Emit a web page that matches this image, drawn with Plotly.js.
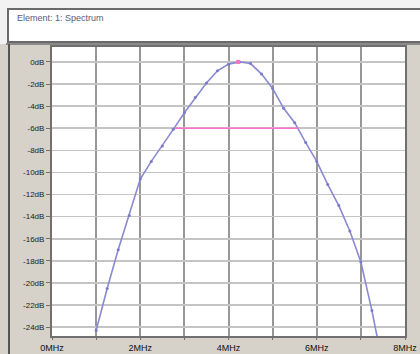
<!DOCTYPE html>
<html>
<head>
<meta charset="utf-8">
<script src="https://cdn.plot.ly/plotly-3.0.1.min.js"></script>
<style>html,body{margin:0;padding:0;background:#d6d2ca;}</style>
</head>
<body>
<div id="chart" style="width:420px;height:354px;"></div>
<script>
// Spectrum readings (MHz, dB)
const freqMHz = [1.0, 1.25, 1.5, 1.75, 2.0, 2.25, 2.5, 2.75, 3.0, 3.25, 3.5, 3.75, 4.0, 4.25, 4.5, 4.75, 5.0, 5.25, 5.5, 5.75, 6.0, 6.25, 6.5, 6.75, 7.0, 7.25, 7.4];
const levelDb = [-24.3, -20.5, -17.0, -13.9, -10.6, -9.0, -7.6, -6.1, -4.6, -3.2, -1.9, -0.8, -0.2, 0.0, -0.15, -1.1, -2.4, -4.2, -5.5, -7.3, -9.0, -11.1, -13.0, -15.3, -18.1, -22.5, -25.5];
// -6 dB bandwidth marker
const bwFreq = [2.79, 5.58];
const bwLevel = [-6, -6];
// peak marker
const peakFreq = [4.22];
const peakLevel = [0];
// ticks
const xTickVals = [0, 1, 2, 3, 4, 5, 6, 7, 8];
const xTickText = ["0MHz", "", "2MHz", "", "4MHz", "", "6MHz", "", "8MHz"];
const yTickVals = [0, -2, -4, -6, -8, -10, -12, -14, -16, -18, -20, -22, -24];
const yTickText = ["0dB", "-2dB", "-4dB", "-6dB", "-8dB", "-10dB", "-12dB", "-14dB", "-16dB", "-18dB", "-20dB", "-22dB", "-24dB"];
const titleText = "Element: 1: Spectrum";

// plot area pixel geometry helpers for decorations
const L = 52, R = 405, T = 47, B = 336;
const px = x => (x - L) / (R - L);
const py = y => (B - y) / (B - T);

const traces = [
  {x: freqMHz, y: levelDb, type: 'scatter', mode: 'lines+markers',
   line: {color: '#8a8ad2', width: 1.6}, marker: {color: '#7a7ac8', size: 3},
   cliponaxis: true, hoverinfo: 'skip'},
  {x: bwFreq, y: bwLevel, type: 'scatter', mode: 'lines',
   line: {color: '#ff70d0', width: 1.6}, hoverinfo: 'skip'},
  {x: peakFreq, y: peakLevel, type: 'scatter', mode: 'markers',
   marker: {color: '#ff70c0', size: 4, symbol: 'square'}, hoverinfo: 'skip'}
];

const layout = {
  width: 420, height: 354,
  margin: {l: L, r: 420 - R, t: T, b: 354 - B, pad: 0},
  paper_bgcolor: '#d6d2ca',
  plot_bgcolor: '#ffffff',
  showlegend: false,
  xaxis: {
    range: [0, 8], tickvals: xTickVals, ticktext: xTickText,
    showgrid: true, gridcolor: '#979797', gridwidth: 2,
    zeroline: false, showline: true, linecolor: '#707070', linewidth: 2, mirror: true,
    ticks: 'outside', ticklen: 2, tickcolor: '#707070',
    tickfont: {family: 'Liberation Sans, Arial, sans-serif', size: 9, color: '#111'},
    fixedrange: true
  },
  yaxis: {
    range: [-24.8, 1.35], tickvals: yTickVals, ticktext: yTickText,
    showgrid: true, gridcolor: '#c4c4c4', gridwidth: 1.5,
    zeroline: false, showline: true, linecolor: '#707070', linewidth: 2, mirror: true,
    ticks: 'outside', ticklen: 4, tickcolor: '#707070',
    tickfont: {family: 'Liberation Sans, Arial, sans-serif', size: 8, color: '#1a1a1a'},
    fixedrange: true
  },
  shapes: [
    // top band
    {type: 'rect', xref: 'paper', yref: 'paper', x0: px(0), x1: px(420), y0: py(44), y1: py(0),
     fillcolor: '#f2f2f2', line: {width: 0}, layer: 'below'},
    // title box
    {type: 'rect', xref: 'paper', yref: 'paper', x0: px(8), x1: px(422), y0: py(42), y1: py(9),
     fillcolor: '#ffffff', line: {color: '#6a6a6a', width: 2}, layer: 'below'},
    // top rule
    {type: 'line', xref: 'paper', yref: 'paper', x0: px(6), x1: px(420), y0: py(44), y1: py(44),
     line: {color: '#8a8a8a', width: 2}},
    // left panel border
    {type: 'line', xref: 'paper', yref: 'paper', x0: px(9), x1: px(9), y0: py(354), y1: py(44),
     line: {color: '#555555', width: 2}}
  ],
  annotations: [
    {text: titleText, xref: 'paper', yref: 'paper', x: px(15), y: py(18),
     xanchor: 'left', yanchor: 'middle', showarrow: false,
     font: {family: 'Liberation Sans, Arial, sans-serif', size: 9, color: '#5a5a78'}}
  ]
};

Plotly.newPlot('chart', traces, layout, {displayModeBar: false, staticPlot: true});
</script>
</body>
</html>
